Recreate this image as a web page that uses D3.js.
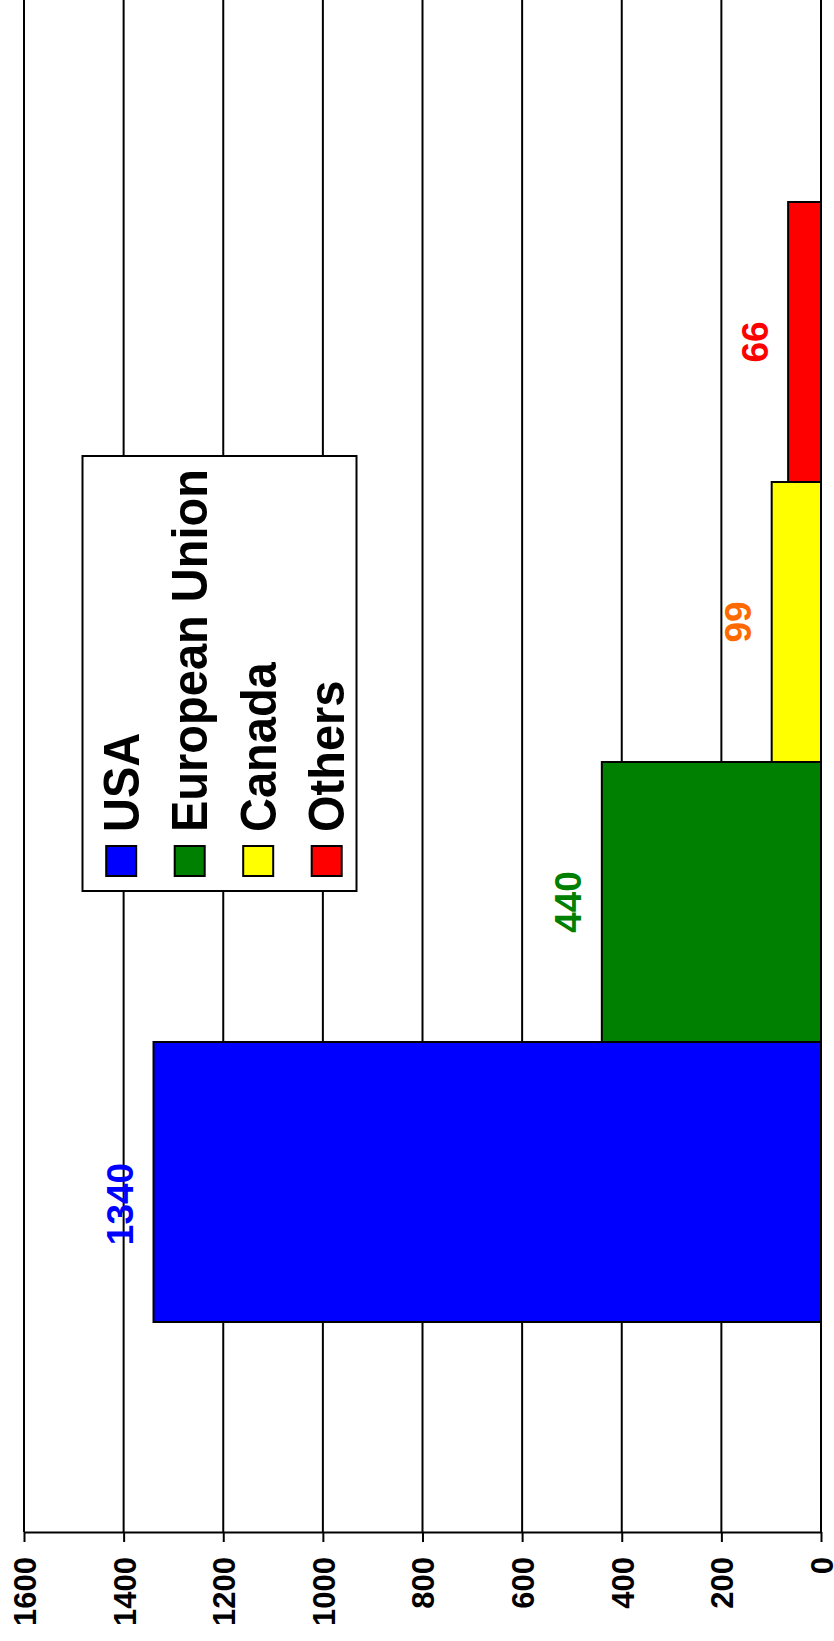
<!DOCTYPE html>
<html>
<head>
<meta charset="utf-8">
<script src="https://cdn.jsdelivr.net/npm/d3@7"></script>
<style>
  html, body { margin: 0; padding: 0; background: #fff; }
  svg { display: block; }
  text { font-family: "Liberation Sans", Arial, Helvetica, sans-serif; font-weight: bold; }
</style>
</head>
<body>
<svg id="chart" width="834" height="1641"></svg>
<script>
// Producer shares, drawn as a column chart turned a quarter-turn counter-clockwise
const categories = ["USA", "European Union", "Canada", "Others"];
const values = [1340, 440, 99, 66];
const barColors = ["#0000ff", "#008000", "#ffff00", "#ff0000"];
const labelColors = ["#0000ff", "#008000", "#ff6a00", "#ff0000"];
const tickValues = [0, 200, 400, 600, 800, 1000, 1200, 1400, 1600];

const svg = d3.select("#chart");

const axisY = 1532;          // screen row of the value axis
const plotTop = 0;

// value runs right-to-left on screen, categories run bottom-to-top
const x = d3.scaleLinear().domain([0, 1600]).range([821, 24]);
const y = d3.scaleBand().domain(categories).range([1322, 202]).paddingInner(0).paddingOuter(0);

// vertical grid lines
svg.append("g")
  .selectAll("line")
  .data(tickValues)
  .join("line")
  .attr("x1", d => x(d)).attr("x2", d => x(d))
  .attr("y1", plotTop).attr("y2", axisY)
  .attr("stroke", "#000").attr("stroke-width", 2);

// value axis with rotated tick labels
const axis = svg.append("g")
  .attr("transform", `translate(0,${axisY})`)
  .call(d3.axisBottom(x).tickValues(tickValues).tickSize(10).tickSizeOuter(0).tickFormat(d3.format("d")));
axis.select(".domain").attr("stroke", "#000").attr("stroke-width", 2.2);
axis.selectAll(".tick line").attr("stroke", "#000").attr("stroke-width", 2);
axis.selectAll(".tick text")
  .attr("transform", "rotate(-90)")
  .attr("x", -25).attr("y", 0).attr("dy", "0.37em")
  .attr("text-anchor", "end")
  .attr("fill", "#000")
  .style("font-size", "31px")
  .style("font-family", "'Liberation Sans', Arial, sans-serif")
  .style("font-weight", "bold");

// bars
svg.append("g")
  .selectAll("rect")
  .data(categories)
  .join("rect")
  .attr("x", (d, i) => x(values[i]))
  .attr("y", d => y(d))
  .attr("width", (d, i) => x(0) - x(values[i]))
  .attr("height", y.bandwidth())
  .attr("fill", (d, i) => barColors[i])
  .attr("stroke", "#000").attr("stroke-width", 2);

// value labels beyond each bar end
svg.append("g")
  .selectAll("text")
  .data(categories)
  .join("text")
  .attr("transform", (d, i) => {
    const cx = x(values[i]) - 20.5;
    const cy = y(d) + y.bandwidth() / 2 + (i === 0 ? 22 : 0);
    return `translate(${cx},${cy}) rotate(-90)`;
  })
  .attr("text-anchor", "middle")
  .attr("fill", (d, i) => labelColors[i])
  .style("font-size", "37px")
  .text((d, i) => values[i]);

// legend
const legend = { x: 82.5, y: 456, w: 274, h: 435 };
const lg = svg.append("g");
lg.append("rect")
  .attr("x", legend.x).attr("y", legend.y)
  .attr("width", legend.w).attr("height", legend.h)
  .attr("fill", "#fff").attr("stroke", "#000").attr("stroke-width", 2);

const itemX = i => legend.x + 38.7 + i * 68.5;
const items = lg.selectAll("g.item")
  .data(categories)
  .join("g")
  .attr("class", "item");
items.append("rect")
  .attr("x", (d, i) => itemX(i) - 15)
  .attr("y", 846)
  .attr("width", 30).attr("height", 30)
  .attr("fill", (d, i) => barColors[i])
  .attr("stroke", "#000").attr("stroke-width", 2);
items.append("text")
  .attr("transform", (d, i) => `translate(${itemX(i) + 17.5},832) rotate(-90) scale(1,1.06)`)
  .attr("text-anchor", "start")
  .attr("fill", "#000")
  .style("font-size", "47px")
  .text(d => d);
</script>
</body>
</html>
